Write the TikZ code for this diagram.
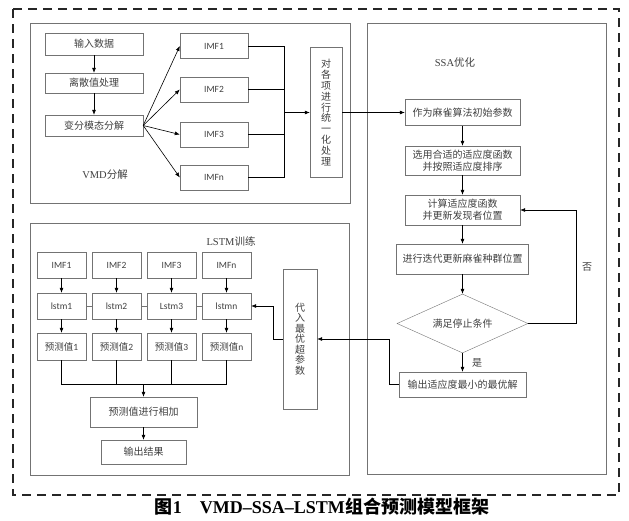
\documentclass[tikz,border=0pt]{standalone}
\usepackage{fontspec}
\setmainfont{Liberation Serif}
\newfontfamily\cjk{Noto Sans CJK SC}
\newfontfamily\imffont{Carlito}
\usepackage{tikz}
\usetikzlibrary{shapes.geometric, arrows.meta, positioning}
\definecolor{linegray}{gray}{0.45}
\definecolor{textgray}{gray}{0.25}

\begin{document}
\begin{tikzpicture}[x=1pt, y=-1pt,
box/.style={draw=linegray, text=textgray, inner sep=0pt, align=center,
  font=\cjk\fontsize{10}{12}\selectfont},
vmdbox/.style={box, minimum width=98pt, minimum height=21pt},
imfbox/.style={box, minimum width=68pt, minimum height=25pt,
  font=\imffont\fontsize{9.5}{11}\selectfont},
ssabox/.style={box, minimum width=115pt, minimum height=29pt},
cellbox/.style={box, minimum width=49pt, minimum height=26pt,
  font=\imffont\fontsize{9.5}{11}\selectfont},
tagtext/.style={text=textgray, inner sep=0pt, font=\fontsize{10.5}{12}\selectfont},
region/.style={draw=linegray, line width=0.6pt},
outer/.style={draw=black!85, line width=1.2pt, dash pattern=on 9pt off 6pt},
line/.style={draw=black, line width=0.6pt},
link/.style={draw=linegray, line width=0.6pt},
arrow/.style={line, -{Latex[length=5pt, width=4pt]}}]

\useasboundingbox (0,0) rectangle (629,520);

% regions
\draw[outer] (13,9) rectangle (619,495);
\draw[region] (30,23) rectangle (350,203);
\draw[region] (367,23) rectangle (606,474);
\draw[region] (30,223) rectangle (349,475);

% VMD decomposition
\node[vmdbox, minimum height=22pt] (input) at (94,44) {输入数据};
\node[vmdbox, minimum height=20pt] (outlier) at (94,83) {离散值处理};
\node[vmdbox] (decomp) at (94,125.5) {变分模态分解};
\node[imfbox] (imf1) at (214,46) {IMF1};
\node[imfbox] (imf2) at (214,89.5) {IMF2};
\node[imfbox] (imf3) at (214,134.5) {IMF3};
\node[imfbox] (imfn) at (214,177.5) {IMFn};
\node[box, minimum width=32pt, minimum height=130pt,
  font=\cjk\fontsize{10}{10.9}\selectfont] (unify) at (326,112.5)
  {对\\各\\项\\进\\行\\统\\一\\化\\处\\理};
\node[tagtext] (vmdtag) at (105,175) {VMD{\cjk 分解}};
\coordinate (bus) at (284,112.5);

% SSA optimisation
\node[tagtext] (ssatag) at (455,63) {SSA{\cjk 优化}};
\node[ssabox, minimum height=26pt] (init) at (462.5,112.5) {作为麻雀算法初始参数};
\node[ssabox] (fitsort) at (462.5,160.5) {选用合适的适应度函数\\并按照适应度排序};
\node[ssabox, minimum height=30pt] (calc) at (462.5,210) {计算适应度函数\\并更新发现者位置};
\node[ssabox, minimum width=132pt, minimum height=30pt] (iter) at (462.5,259) {进行迭代更新麻雀种群位置};
\node[box, diamond, aspect=2.2, minimum width=131pt, minimum height=59pt] (stop) at (462.5,323.5) {满足停止条件};
\node[ssabox, minimum width=127pt, minimum height=25pt] (best) at (462.5,384.5) {输出适应度最小的最优解};
\node[tagtext, font=\cjk\fontsize{10}{12}\selectfont] (no) at (587,267) {否};
\node[tagtext, font=\cjk\fontsize{10}{12}\selectfont] (yes) at (477,363) {是};

% LSTM training
\node[tagtext] (lstmtag) at (231,241) {LSTM{\cjk 训练}};
\node[box, minimum width=34pt, minimum height=140pt,
  font=\cjk\fontsize{10}{10.5}\selectfont] (hyper) at (300,339)
  {代\\入\\最\\优\\超\\参\\数};
\node[cellbox] (limf1) at (61.5,265) {IMF1};
\node[cellbox] (limf2) at (116.5,265) {IMF2};
\node[cellbox] (limf3) at (171.5,265) {IMF3};
\node[cellbox] (limfn) at (226.5,265) {IMFn};
\node[cellbox] (lstm1) at (61.5,306) {lstm1};
\node[cellbox] (lstm2) at (116.5,306) {lstm2};
\node[cellbox] (lstm3) at (171.5,306) {Lstm3};
\node[cellbox] (lstmn) at (226.5,306) {lstmn};
\node[cellbox, minimum height=27pt] (pred1) at (61.5,346.5) {{\cjk 预测值}1};
\node[cellbox, minimum height=27pt] (pred2) at (116.5,346.5) {{\cjk 预测值}2};
\node[cellbox, minimum height=27pt] (pred3) at (171.5,346.5) {{\cjk 预测值}3};
\node[cellbox, minimum height=27pt] (predn) at (226.5,346.5) {{\cjk 预测值}n};
\node[box, minimum width=107pt, minimum height=30pt] (sum) at (143.5,412) {预测值进行相加};
\node[box, minimum width=85pt, minimum height=24pt] (result) at (143.5,452) {输出结果};
\coordinate (sumbus) at (143.5,384);

% caption
\node[inner sep=0pt, font=\bfseries\fontsize{18}{20}\selectfont] (caption) at (322,507)
  {{\cjk 图}1\hspace{1em}VMD–SSA–LSTM{\cjk 组合预测模型框架}};

% connections
\draw[arrow] (input) -- (outlier);
\draw[arrow] (outlier) -- (decomp);
\draw[arrow] (decomp.east) -- (imf1.west);
\draw[arrow] (decomp.east) -- (imf2.west);
\draw[arrow] (decomp.east) -- (imf3.west);
\draw[arrow] (decomp.east) -- (imfn.west);
\draw[line] (imf1.east) -- (imf1.east -| bus);
\draw[line] (imf2.east) -- (imf2.east -| bus);
\draw[line] (imf3.east) -- (imf3.east -| bus);
\draw[line] (imfn.east) -- (imfn.east -| bus);
\draw[line] (imf1.east -| bus) -- (imfn.east -| bus);
\draw[arrow] (bus) -- (unify.west);
\draw[arrow] (unify.east) -- (init.west);

\draw[arrow] (init) -- (fitsort);
\draw[arrow] (fitsort) -- (calc);
\draw[arrow] (calc) -- (iter);
\draw[arrow] (iter) -- (stop);
\draw[arrow] (stop.east) -- ++(48,0) |- (calc.east);
\draw[arrow] (stop.south) -- (best.north);
\draw[arrow] (best.west) -- ++(-10,0) |- (hyper.east);
\draw[arrow] (hyper.west) -- ++(-10,0) |- (lstmn.east);

\draw[arrow] (limf1) -- (lstm1);
\draw[arrow] (limf2) -- (lstm2);
\draw[arrow] (limf3) -- (lstm3);
\draw[arrow] (limfn) -- (lstmn);
\draw[link] (lstm1) -- (lstm2);
\draw[link] (lstm2) -- (lstm3);
\draw[link] (lstm3) -- (lstmn);
\draw[arrow] (lstm1) -- (pred1);
\draw[arrow] (lstm2) -- (pred2);
\draw[arrow] (lstm3) -- (pred3);
\draw[arrow] (lstmn) -- (predn);
\draw[line] (pred1.south) -- (pred1.south |- sumbus) -- (predn.south |- sumbus) -- (predn.south);
\draw[line] (pred2.south) -- (pred2.south |- sumbus);
\draw[line] (pred3.south) -- (pred3.south |- sumbus);
\draw[arrow] (sumbus) -- (sum.north);
\draw[arrow] (sum) -- (result);

\end{tikzpicture}
\end{document}
